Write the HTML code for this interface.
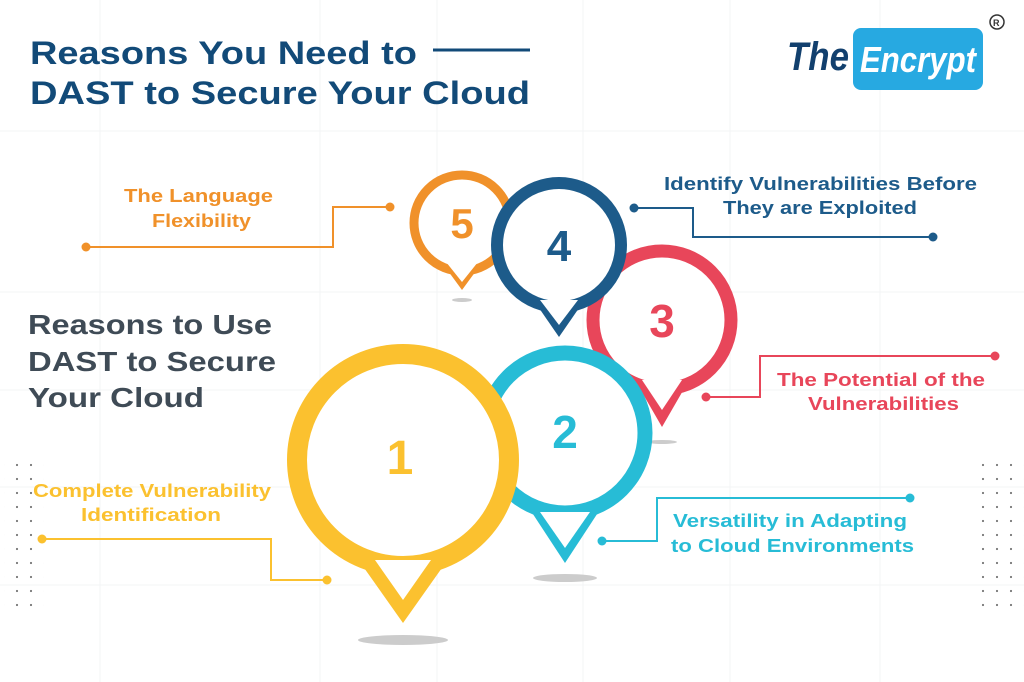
<!DOCTYPE html>
<html><head><meta charset="utf-8"><style>
html,body{margin:0;padding:0;background:#fff}
svg{display:block}
text{font-family:"Liberation Sans",sans-serif;font-weight:bold}
</style></head><body>
<svg width="1024" height="682" viewBox="0 0 1024 682" xmlns="http://www.w3.org/2000/svg">
<rect width="1024" height="682" fill="#fff"/>
<g stroke="#f3f4f6" stroke-width="1">
<line x1="100" y1="0" x2="100" y2="682"/><line x1="320" y1="0" x2="320" y2="682"/>
<line x1="437" y1="0" x2="437" y2="682"/><line x1="583" y1="0" x2="583" y2="682"/>
<line x1="730" y1="0" x2="730" y2="682"/><line x1="880" y1="0" x2="880" y2="682"/>
<line x1="0" y1="131" x2="1024" y2="131"/><line x1="0" y1="292" x2="1024" y2="292"/>
<line x1="0" y1="390" x2="1024" y2="390"/><line x1="0" y1="487" x2="1024" y2="487"/>
<line x1="0" y1="585" x2="1024" y2="585"/>
</g>
<defs><pattern id="dots" width="14" height="14" patternUnits="userSpaceOnUse"><circle cx="3" cy="3" r="1.1" fill="#777"/></pattern></defs>
<rect x="4" y="458" width="40" height="150" fill="url(#dots)"/>
<rect x="980" y="458" width="44" height="150" fill="url(#dots)"/>

<g lengthAdjust="spacingAndGlyphs">
<text x="30" y="64" font-size="32" fill="#124a78" textLength="387" lengthAdjust="spacingAndGlyphs">Reasons You Need to</text>
<text x="30" y="104" font-size="32" fill="#124a78" textLength="500" lengthAdjust="spacingAndGlyphs">DAST to Secure Your Cloud</text>
</g>
<line x1="433" y1="50" x2="530" y2="50" stroke="#124a78" stroke-width="3"/>
<g font-size="28" fill="#3f4b56">
<text x="28" y="334" textLength="244" lengthAdjust="spacingAndGlyphs">Reasons to Use</text>
<text x="28" y="371" textLength="248" lengthAdjust="spacingAndGlyphs">DAST to Secure</text>
<text x="28" y="407" textLength="176" lengthAdjust="spacingAndGlyphs">Your Cloud</text>
</g>

<!-- logo -->
<text x="787" y="70" font-size="40" fill="#12406e" font-style="italic" font-family="Liberation Serif,serif" textLength="62" lengthAdjust="spacingAndGlyphs">The</text>
<rect x="853" y="28" width="130" height="62" rx="8" fill="#27a9e1"/>
<text x="860" y="72" font-size="36" fill="#fff" font-style="italic" font-family="Liberation Serif,serif" textLength="116" lengthAdjust="spacingAndGlyphs">Encrypt</text>
<circle cx="997" cy="22" r="7" fill="none" stroke="#333" stroke-width="1.5"/>
<text x="993" y="26" font-size="9" fill="#333">R</text>

<!-- shadows -->
<g fill="#ccc">
<ellipse cx="462" cy="300" rx="10" ry="2"/><ellipse cx="662" cy="442" rx="15" ry="2"/>
<ellipse cx="565" cy="578" rx="32" ry="4"/><ellipse cx="403" cy="640" rx="45" ry="5"/>
</g>

<!-- pins -->
<g>
<path d="M440,260 L462,290 L484,260 Z" fill="#f0912a"/><circle cx="462" cy="223" r="48" fill="#fff" stroke="#f0912a" stroke-width="9"/>
<path d="M446,262 L462,282 L478,262 Z" fill="#fff"/>
<text x="462" y="238" font-size="42" fill="#f0912a" text-anchor="middle">5</text>
</g>
<g>
<path d="M632,375 L662,427 L692,375 Z" fill="#e8465a"/><circle cx="662" cy="320" r="69" fill="#fff" stroke="#e8465a" stroke-width="13"/>
<path d="M642,380 L662,410 L682,380 Z" fill="#fff"/>
<text x="662" y="337" font-size="46" fill="#e8465a" text-anchor="middle">3</text>
</g>
<g>
<path d="M530,295 L559,337 L588,295 Z" fill="#1d5b8a"/><circle cx="559" cy="245" r="62" fill="#fff" stroke="#1d5b8a" stroke-width="12"/>
<path d="M540,300 L559,325 L578,300 Z" fill="#fff"/>
<text x="559" y="261" font-size="44" fill="#1d5b8a" text-anchor="middle">4</text>
</g>
<g>
<path d="M527,505 L565,563 L603,505 Z" fill="#27bcd6"/><circle cx="565" cy="433" r="80" fill="#fff" stroke="#27bcd6" stroke-width="15"/>
<path d="M540,512 L565,548 L590,512 Z" fill="#fff"/>
<text x="565" y="448" font-size="46" fill="#27bcd6" text-anchor="middle">2</text>
</g>
<g>
<path d="M350,548 L403,623 L456,548 Z" fill="#fbc12f"/><circle cx="403" cy="460" r="106" fill="#fff" stroke="#fbc12f" stroke-width="20"/>
<path d="M375,560 L403,600 L431,560 Z" fill="#fff"/>
<text x="400" y="474" font-size="48" fill="#fbc12f" text-anchor="middle">1</text>
</g>

<!-- connectors -->
<g fill="none" stroke-width="2">
<polyline points="86,247 333,247 333,207 390,207" stroke="#f0912a"/>
<polyline points="634,208 693,208 693,237 933,237" stroke="#1d5b8a"/>
<polyline points="995,356 760,356 760,397 706,397" stroke="#e8465a"/>
<polyline points="910,498 657,498 657,541 602,541" stroke="#27bcd6"/>
<polyline points="42,539 271,539 271,580 327,580" stroke="#fbc12f"/>
</g>
<g>
<circle cx="86" cy="247" r="4.5" fill="#f0912a"/><circle cx="390" cy="207" r="4.5" fill="#f0912a"/>
<circle cx="634" cy="208" r="4.5" fill="#1d5b8a"/><circle cx="933" cy="237" r="4.5" fill="#1d5b8a"/>
<circle cx="995" cy="356" r="4.5" fill="#e8465a"/><circle cx="706" cy="397" r="4.5" fill="#e8465a"/>
<circle cx="910" cy="498" r="4.5" fill="#27bcd6"/><circle cx="602" cy="541" r="4.5" fill="#27bcd6"/>
<circle cx="42" cy="539" r="4.5" fill="#fbc12f"/><circle cx="327" cy="580" r="4.5" fill="#fbc12f"/>
</g>

<!-- labels -->
<g font-size="18">
<text x="124" y="202" fill="#f0912a" textLength="149" lengthAdjust="spacingAndGlyphs">The Language</text>
<text x="152" y="227" fill="#f0912a" textLength="99" lengthAdjust="spacingAndGlyphs">Flexibility</text>
<text x="664" y="190" fill="#1d5b8a" textLength="313" lengthAdjust="spacingAndGlyphs">Identify Vulnerabilities Before</text>
<text x="723" y="214" fill="#1d5b8a" textLength="194" lengthAdjust="spacingAndGlyphs">They are Exploited</text>
<text x="777" y="386" fill="#e8465a" textLength="208" lengthAdjust="spacingAndGlyphs">The Potential of the</text>
<text x="808" y="410" fill="#e8465a" textLength="151" lengthAdjust="spacingAndGlyphs">Vulnerabilities</text>
<text x="673" y="527" fill="#27bcd6" textLength="234" lengthAdjust="spacingAndGlyphs">Versatility in Adapting</text>
<text x="671" y="552" fill="#27bcd6" textLength="243" lengthAdjust="spacingAndGlyphs">to Cloud Environments</text>
<text x="33" y="497" fill="#fbc12f" textLength="238" lengthAdjust="spacingAndGlyphs">Complete Vulnerability</text>
<text x="81" y="521" fill="#fbc12f" textLength="140" lengthAdjust="spacingAndGlyphs">Identification</text>
</g>
</svg>
</body></html>
